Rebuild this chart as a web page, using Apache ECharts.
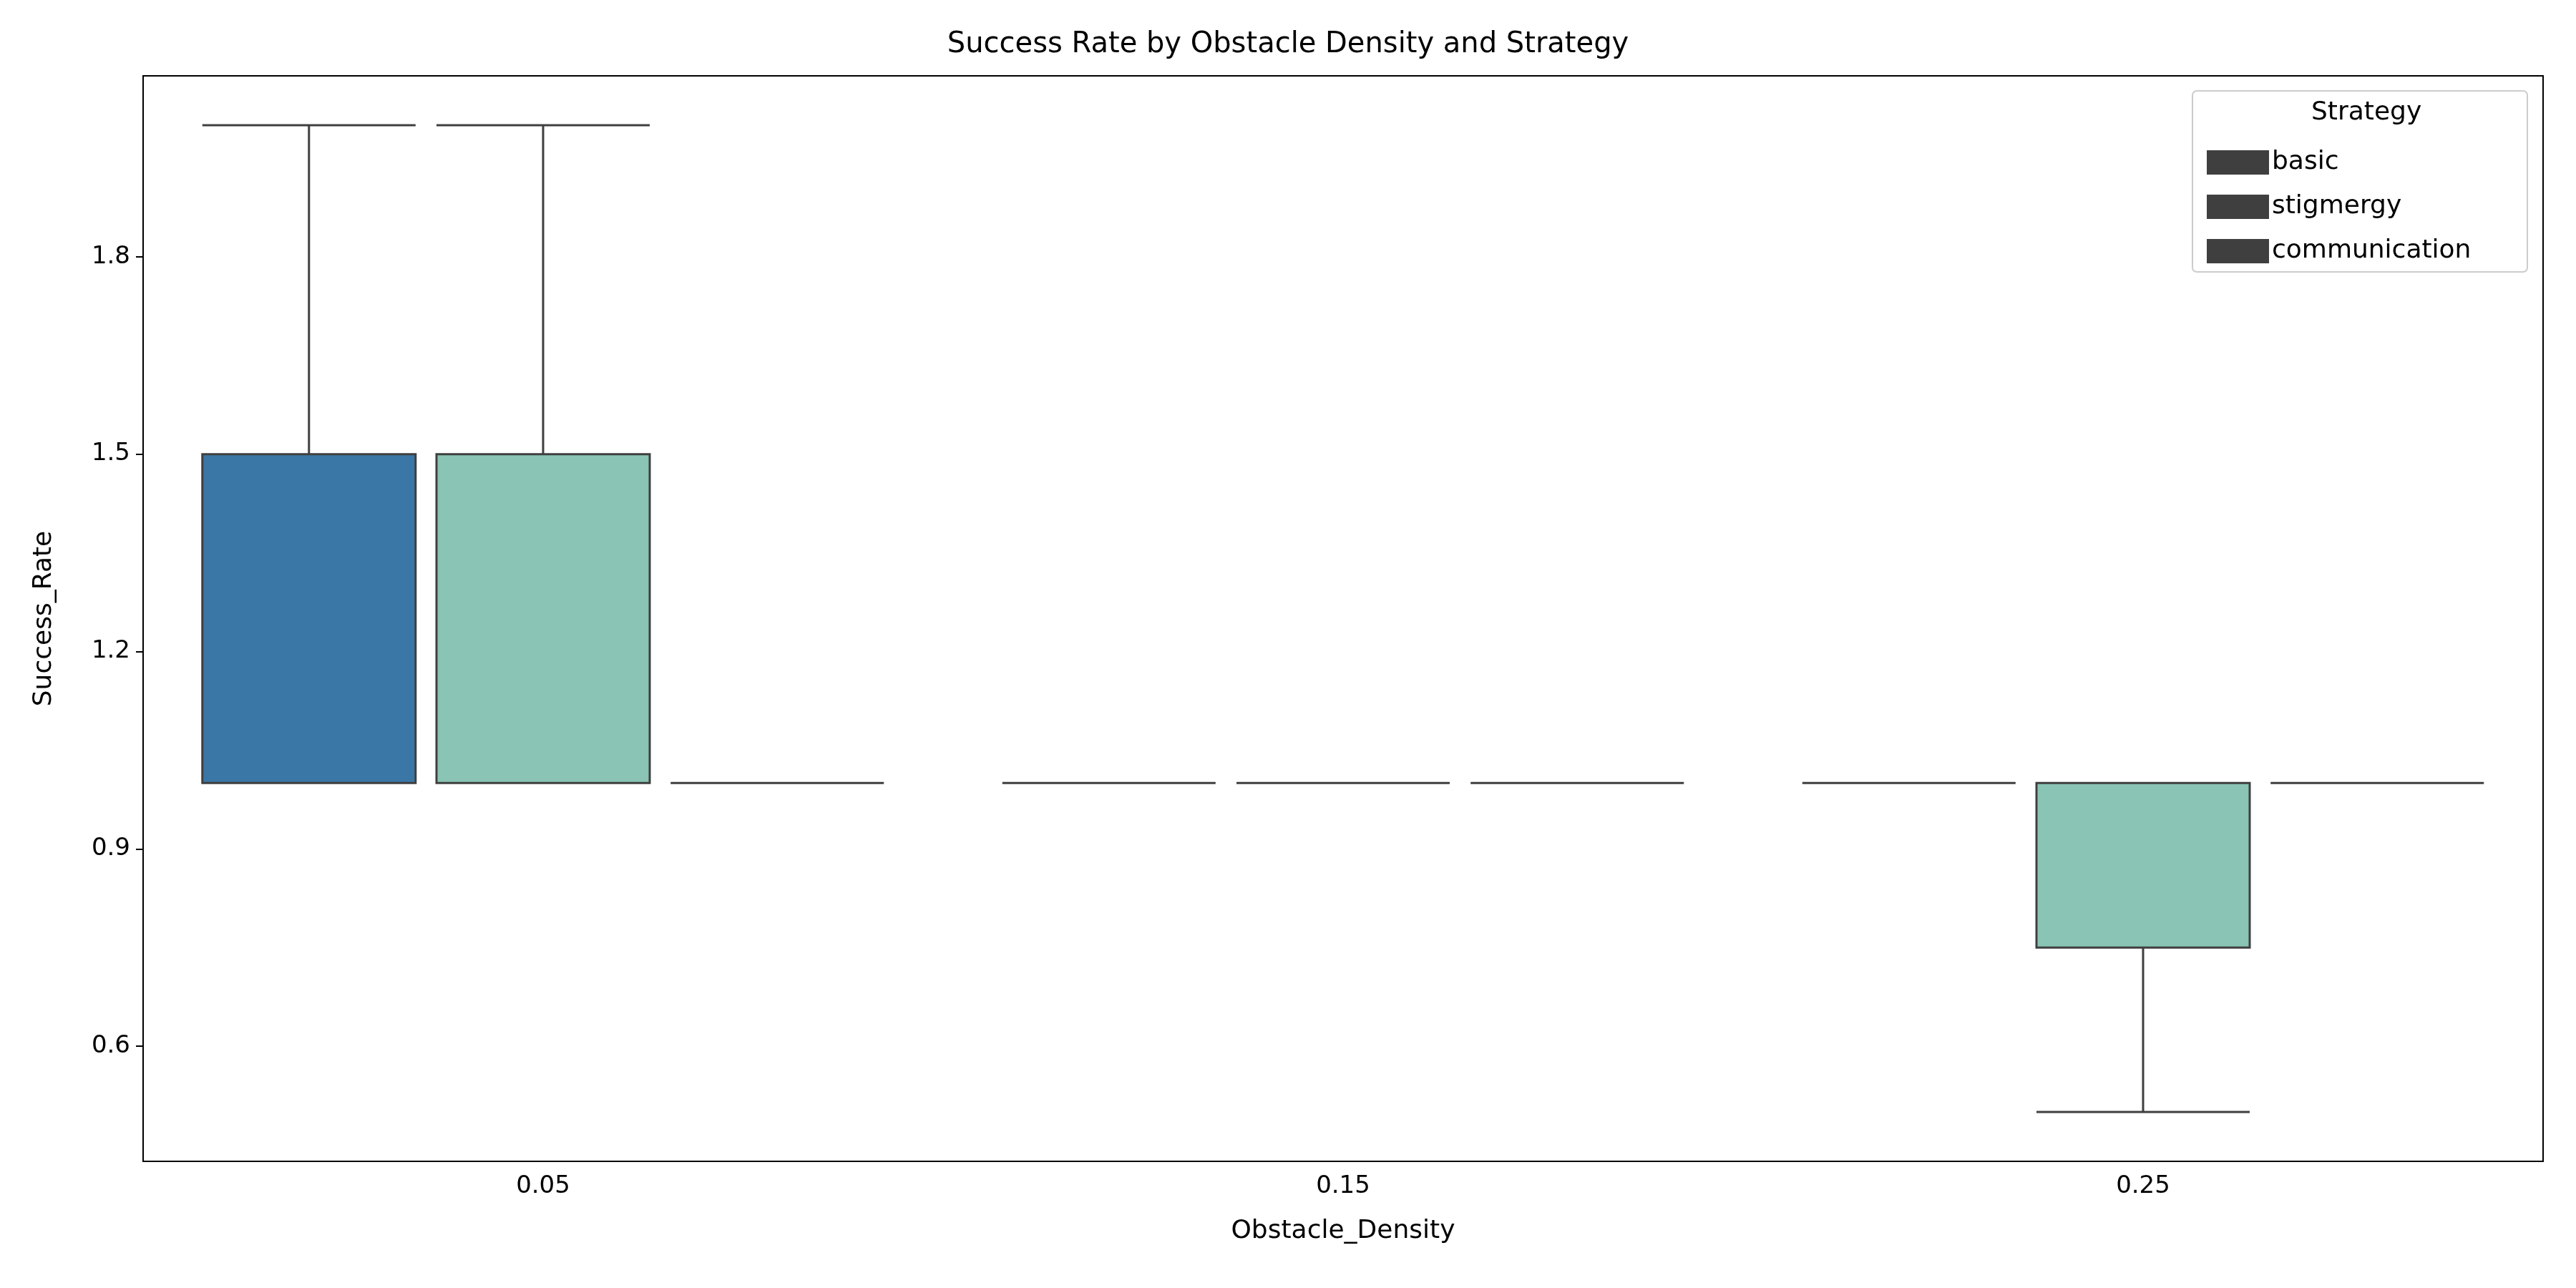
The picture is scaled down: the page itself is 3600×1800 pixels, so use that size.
<!DOCTYPE html>
<html>
<head>
<meta charset="utf-8">
<script src="https://cdn.jsdelivr.net/npm/echarts@6/dist/echarts.min.js"></script>
<style>html,body{margin:0;padding:0;background:#fff}#main{width:3600px;height:1800px}</style>
</head>
<body>
<div id="main"></div>
<script>
// categories and box stats [min, Q1, median, Q3, max]
var densities = ['0.05', '0.15', '0.25'];
var strategies = ['basic', 'stigmergy', 'communication'];
var colors = ['#3b77a6', '#89c4b4', '#c22f2f'];
var basicBoxes = [[1, 1, 1, 1.5, 2], [1, 1, 1, 1, 1], [1, 1, 1, 1, 1]];
var stigmergyBoxes = [[1, 1, 1, 1.5, 2], [1, 1, 1, 1, 1], [0.5, 0.75, 1, 1, 1]];
var communicationBoxes = [[1, 1, 1, 1, 1], [1, 1, 1, 1, 1], [1, 1, 1, 1, 1]];
var allBoxes = [basicBoxes, stigmergyBoxes, communicationBoxes];

var chart = echarts.init(document.getElementById('main'));
var font = 'DejaVu Sans';
var series = strategies.map(function (name, i) {
    return {
        name: name,
        type: 'boxplot',
        data: allBoxes[i],
        boxWidth: [298, 298],
        itemStyle: {color: colors[i], borderColor: '#3f3f3f', borderWidth: 3},
        emphasis: {disabled: true}
    };
});
var option = {
    animation: false,
    backgroundColor: '#fff',
    title: {
        text: 'Success Rate by Obstacle Density and Strategy',
        left: 'center', top: 38,
        textStyle: {fontFamily: font, fontSize: 40, fontWeight: 'normal', color: '#000'}
    },
    grid: {left: 200, right: 46, top: 106, bottom: 177, show: true, borderColor: '#000', borderWidth: 2},
    legend: {
        data: strategies,
        orient: 'vertical',
        left: 3079, top: 204,
        itemWidth: 85, itemHeight: 32, itemGap: 26,
        icon: 'rect',
        itemStyle: {borderColor: '#3f3f3f', borderWidth: 2},
        textStyle: {fontFamily: font, fontSize: 36, color: '#000'}
    },
    graphic: [
        {type: 'rect', left: 3063, top: 126, shape: {width: 468, height: 253, r: 6},
            style: {fill: 'rgba(255,255,255,0.8)', stroke: '#cccccc', lineWidth: 2}, z: 0},
        {type: 'text', left: 3230, top: 140,
            style: {text: 'Strategy', fontFamily: font, fontSize: 36, fill: '#000'}, z: 10}
    ],
    xAxis: {
        type: 'category',
        data: densities,
        name: 'Obstacle_Density', nameLocation: 'middle', nameGap: 80,
        nameTextStyle: {fontFamily: font, fontSize: 36, color: '#000'},
        axisLine: {lineStyle: {color: '#000', width: 2}},
        axisTick: {alignWithLabel: true, length: 10, lineStyle: {color: '#000', width: 2}},
        axisLabel: {fontFamily: font, fontSize: 34, color: '#000', margin: 18},
        splitLine: {show: false}
    },
    yAxis: {
        type: 'value',
        min: 0.425, max: 2.075,
        name: 'Success_Rate', nameLocation: 'middle', nameGap: 120,
        nameTextStyle: {fontFamily: font, fontSize: 36, color: '#000'},
        axisLine: {show: true, lineStyle: {color: '#000', width: 2}},
        axisTick: {show: true, length: 10, lineStyle: {color: '#000', width: 2}},
        axisLabel: {fontFamily: font, fontSize: 34, color: '#000', margin: 18, showMinLabel: false, showMaxLabel: false,
            formatter: function (v) { return v.toFixed(1); }},
        splitLine: {show: false}
    },
    series: series
};
chart.setOption(option);
</script>
</body>
</html>
